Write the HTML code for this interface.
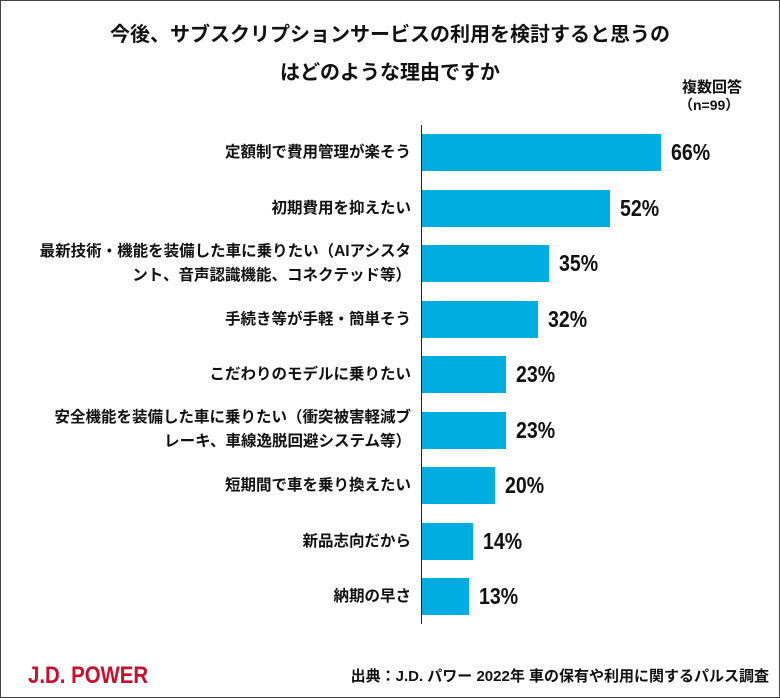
<!DOCTYPE html>
<html><head><meta charset="utf-8"><style>
body{margin:0;background:#fff}
#c{position:relative;width:778px;height:696px;border:1px solid #444;overflow:hidden;font-family:"Liberation Sans","Noto Sans CJK JP",sans-serif;color:#111}
.t{position:absolute;left:0;width:778px;text-align:center;font-size:20px;font-weight:bold}
.l{position:absolute;right:368px;font-size:15.5px;font-weight:bold;text-align:right;line-height:24px;white-space:nowrap}
.b{position:absolute;left:421px;height:37px;background:#00ade1}
.v{position:absolute;font-size:23px;font-weight:bold;transform:scaleX(0.85);transform-origin:left}
</style></head><body><div id="c">
<div class="t" style="top:17px">今後、サブスクリプションサービスの利用を検討すると思うの</div>
<div class="t" style="top:55px">はどのような理由ですか</div>
<div style="position:absolute;left:681px;top:75px;font-size:15px;font-weight:bold">複数回答</div>
<div style="position:absolute;left:678px;top:94px;font-size:14px;font-weight:bold">（n=99）</div>
<div style="position:absolute;left:420px;top:124px;width:1px;height:499px;background:#222"></div>

<div class="l" style="top:140px">定額制で費用管理が楽そう</div>
<div class="b" style="top:133px;width:239px"></div><div class="v" style="left:670px;top:138px">66%</div>

<div class="l" style="top:196px">初期費用を抑えたい</div>
<div class="b" style="top:189px;width:188px"></div><div class="v" style="left:619px;top:194px">52%</div>

<div class="l" style="top:239px">最新技術・機能を装備した車に乗りたい（AIアシスタ<br>ント、音声認識機能、コネクテッド等）</div>
<div class="b" style="top:244px;width:127px"></div><div class="v" style="left:558px;top:249px">35%</div>

<div class="l" style="top:307px">手続き等が手軽・簡単そう</div>
<div class="b" style="top:300px;width:116px"></div><div class="v" style="left:547px;top:305px">32%</div>

<div class="l" style="top:362px">こだわりのモデルに乗りたい</div>
<div class="b" style="top:355px;width:84px"></div><div class="v" style="left:515px;top:360px">23%</div>

<div class="l" style="top:405px">安全機能を装備した車に乗りたい（衝突被害軽減ブ<br>レーキ、車線逸脱回避システム等）</div>
<div class="b" style="top:411px;width:84px"></div><div class="v" style="left:515px;top:416px">23%</div>

<div class="l" style="top:473px">短期間で車を乗り換えたい</div>
<div class="b" style="top:466px;width:73px"></div><div class="v" style="left:504px;top:471px">20%</div>

<div class="l" style="top:529px">新品志向だから</div>
<div class="b" style="top:522px;width:51px"></div><div class="v" style="left:482px;top:527px">14%</div>

<div class="l" style="top:584px">納期の早さ</div>
<div class="b" style="top:577px;width:47px"></div><div class="v" style="left:478px;top:582px">13%</div>

<div style="position:absolute;left:27px;top:661px;font-size:24px;font-weight:bold;color:#c8102e;transform:scaleX(0.85);transform-origin:left">J.D. POWER</div>
<div style="position:absolute;right:10px;top:664px;font-size:15px;font-weight:bold;white-space:nowrap">出典：J.D. パワー 2022年 車の保有や利用に関するパルス調査</div>
</div></body></html>
